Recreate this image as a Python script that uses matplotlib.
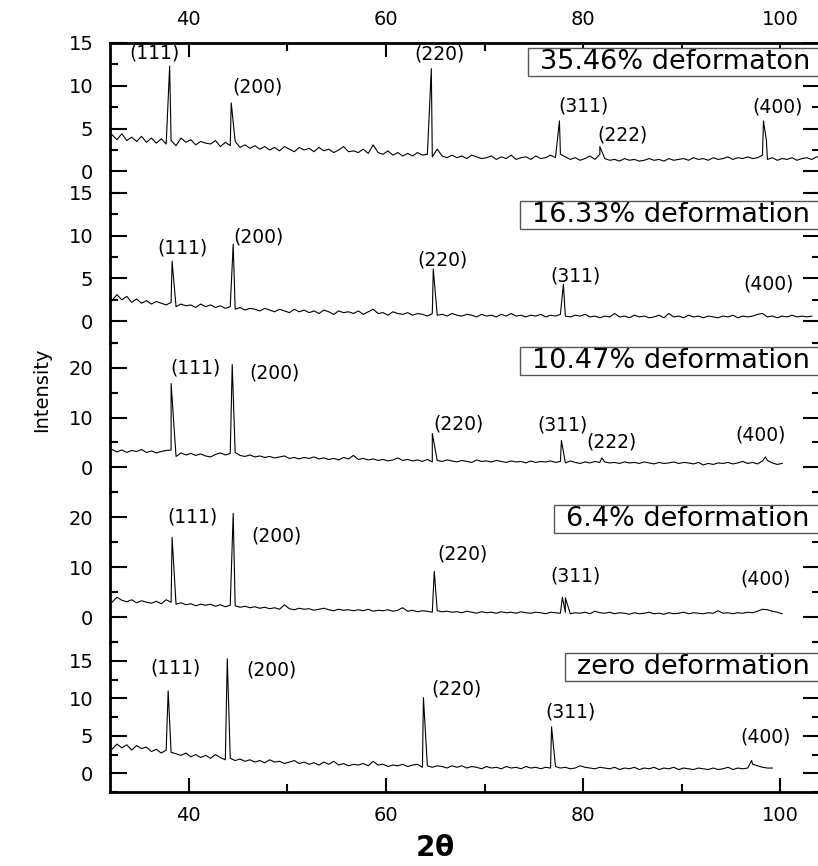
import numpy as np
import matplotlib
matplotlib.use('Agg')
import matplotlib.pyplot as plt
from matplotlib.ticker import MultipleLocator
from matplotlib.patches import Rectangle

# XRD patterns, 5 deformation levels (top -> bottom)
labels = ['35.46% deformaton', '16.33% deformation', '10.47% deformation',
          '6.4% deformation', 'zero deformation']

# background read every 0.5 deg starting at 32.2 deg
x_start = 32.2
x_step = 0.5

bg_3546 = [4.3, 3.7, 4.4, 3.6, 4.0, 3.5, 4.1, 3.4, 3.9, 3.3,
           3.8, 3.2, 3.6, 3.0, 3.9, 3.4, 3.7, 3.1, 3.5, 3.3,
           3.2, 3.6, 2.9, 3.4, 3.0, 3.5, 2.8, 3.1, 2.7, 3.0,
           2.6, 2.9, 2.5, 2.8, 2.4, 2.9, 2.6, 2.3, 2.8, 2.5,
           2.7, 2.3, 2.8, 2.4, 2.6, 2.2, 2.5, 2.9, 2.3, 2.4,
           2.2, 2.6, 2.1, 3.1, 2.2, 2.0, 2.4, 1.9, 2.2, 1.8,
           2.1, 1.8, 2.2, 1.9, 2.0, 1.7, 2.6, 1.8, 1.6, 1.9,
           1.6, 1.8, 1.5, 1.9, 1.7, 1.5, 1.6, 1.8, 1.4, 1.7,
           1.5, 1.9, 1.4, 1.6, 1.7, 1.4, 1.8, 1.5, 1.6, 1.9,
           1.6, 2.0, 1.7, 1.4, 1.6, 1.3, 1.5, 1.8, 1.4, 2.0,
           1.5, 1.3, 1.4, 1.2, 1.5, 1.3, 1.4, 1.2, 1.3, 1.5,
           1.3, 1.4, 1.2, 1.5, 1.3, 1.4, 1.5, 1.3, 1.6, 1.4,
           1.5, 1.3, 1.6, 1.4, 1.5, 1.7, 1.4, 1.6, 1.5, 1.7,
           1.5, 1.6, 1.9, 1.4, 1.6, 1.3, 1.5, 1.4, 1.6, 1.3,
           1.5, 1.6, 1.4, 1.7, 1.6]
bg_1633 = [2.4, 3.1, 2.5, 2.9, 2.2, 2.6, 2.1, 2.4, 2.0, 2.3,
           2.1, 1.9, 2.2, 1.7, 2.0, 1.8, 1.9, 1.6, 2.0, 1.7,
           1.9, 1.6, 1.8, 1.5, 1.7, 1.4, 1.6, 1.3, 1.5, 1.4,
           1.2, 1.5, 1.3, 1.1, 1.4, 1.2, 1.0, 1.4, 1.1, 1.3,
           1.0, 1.2, 0.9, 1.3, 1.1, 0.8, 1.2, 1.0, 1.1, 0.9,
           1.2, 0.8, 1.1, 1.4, 0.9, 1.0, 0.7, 1.1, 0.9, 0.8,
           1.0, 0.7, 0.9, 0.8, 0.6, 0.9, 0.7, 0.8, 0.6, 0.9,
           0.7, 0.6, 0.8, 0.7, 0.5, 0.8, 0.6, 0.7, 0.5, 0.8,
           0.6, 0.9, 0.6, 0.7, 0.5, 0.7, 0.6, 0.8, 0.5, 0.7,
           0.6, 0.8, 0.6, 0.5, 0.7, 0.6, 0.8, 0.5, 0.6, 0.4,
           0.6, 0.5, 0.9, 0.5, 0.6, 0.4, 0.7, 0.5, 0.6, 0.4,
           0.5, 0.7, 0.4, 0.9, 0.5, 0.6, 0.4, 0.7, 0.5, 0.6,
           0.4, 0.6, 0.5, 0.4, 0.6, 0.5, 0.7, 0.4, 0.6, 0.5,
           0.6, 0.8, 0.9, 0.5, 0.6, 0.4, 0.6, 0.5, 0.7, 0.5,
           0.6, 0.5, 0.6]
bg_1047 = [3.6, 3.1, 3.5, 3.0, 3.4, 3.2, 3.6, 3.0, 3.3, 2.9,
           3.2, 3.4, 3.5, 2.2, 2.9, 2.5, 2.8, 2.4, 2.7, 2.3,
           2.1, 2.6, 2.9, 2.5, 2.8, 3.0, 2.4, 2.2, 2.5, 2.1,
           2.3, 2.0, 2.2, 1.9, 2.1, 2.3, 1.8, 2.0, 1.7, 2.0,
           1.8, 2.1, 1.7, 1.9, 1.6, 1.8, 1.5, 2.0, 1.7, 2.4,
           1.6, 1.8, 1.5, 1.7, 1.4, 1.6, 1.3, 1.5, 1.9, 1.4,
           1.6, 1.3, 1.5, 1.2, 1.6, 1.1, 1.4, 1.2, 1.5, 1.3,
           1.1, 1.4, 1.2, 1.0, 1.5, 1.2, 1.3, 1.1, 1.4, 1.2,
           1.0, 1.3, 1.1, 1.2, 0.9, 1.3, 1.0, 1.2, 1.1, 1.3,
           1.0, 1.2, 0.9, 1.3, 1.0, 0.8, 1.1, 0.9, 1.2, 1.0,
           1.1, 0.9, 1.0, 0.8, 1.1, 0.9, 1.0, 0.8, 1.1, 0.9,
           0.7, 1.0, 0.8, 0.9, 1.1, 0.8, 1.0, 0.9, 0.7, 1.0,
           0.5, 0.8, 0.6, 0.9, 0.8, 1.0, 0.7, 0.9, 1.2, 0.8,
           1.0, 0.7, 1.3, 1.4, 0.9, 0.6, 0.8]
bg_64 = [3.0, 4.0, 3.4, 3.1, 3.5, 2.9, 3.3, 3.0, 2.8, 3.2,
         2.7, 3.5, 3.0, 2.6, 2.9, 2.5, 2.7, 2.3, 2.6, 2.4,
         2.6, 2.2, 2.5, 2.1, 2.4, 2.3, 2.0, 2.2, 1.9, 2.1,
         1.8, 2.0, 1.7, 1.9, 1.6, 2.5, 1.7, 1.5, 1.8, 1.6,
         1.7, 1.4, 1.6, 1.8, 1.5, 1.3, 1.6, 1.4, 1.5, 1.3,
         1.5, 1.3, 1.6, 1.2, 1.4, 1.3, 1.5, 1.2, 1.4, 1.9,
         1.2, 1.4, 1.1, 1.3, 1.2, 1.0, 1.3, 1.1, 1.2, 1.0,
         1.1, 0.9, 1.2, 1.0, 0.8, 1.1, 0.9, 1.0, 0.8, 1.1,
         0.9, 1.0, 0.8, 1.1, 0.9, 0.8, 1.0, 0.9, 0.7, 1.0,
         0.9, 0.8, 1.0, 0.7, 0.9, 0.8, 1.0, 0.7, 1.2, 0.9,
         0.8, 1.0, 0.7, 0.9, 0.8, 0.6, 0.9, 0.7, 0.8, 1.0,
         0.7, 0.8, 0.6, 0.9, 0.7, 0.8, 1.0, 0.7, 0.9, 0.8,
         0.7, 0.9, 0.8, 1.3, 0.8, 0.9, 0.7, 0.9, 0.8, 1.0,
         0.9, 1.2, 1.6, 1.5, 1.2, 1.0, 0.7]
bg_0 = [3.2, 3.9, 3.4, 3.8, 3.1, 3.7, 3.3, 3.5, 2.9, 3.2,
        2.7, 3.1, 2.8, 2.6, 2.4, 2.7, 2.2, 2.5, 2.1, 2.4,
        2.0, 2.5, 2.1, 1.8, 2.0, 1.7, 1.9, 1.6, 1.8, 1.5,
        1.7, 1.4, 1.8, 1.5, 1.6, 1.3, 1.5, 1.7, 1.3, 1.5,
        1.2, 1.4, 1.1, 1.5, 1.2, 1.6, 1.1, 1.3, 1.0, 1.2,
        1.1, 1.3, 1.0, 1.6, 1.1, 1.2, 0.9, 1.1, 1.0, 1.2,
        0.9, 1.1, 1.2, 0.8, 1.0, 0.8, 1.0, 0.9, 0.7, 1.0,
        0.8, 1.0, 0.7, 0.9, 0.8, 0.6, 0.9, 0.7, 0.8, 0.6,
        0.9, 0.7, 0.8, 0.6, 0.9, 0.7, 0.8, 0.6, 0.8, 0.7,
        0.9, 0.7, 0.8, 0.6, 0.7, 1.0, 0.8, 0.7, 0.6, 0.8,
        0.7, 0.6, 0.8, 0.5, 0.7, 0.6, 0.8, 0.5, 0.7, 0.6,
        0.8, 0.5, 0.7, 0.6, 0.8, 0.5, 0.7, 0.6, 0.5, 0.7,
        0.6, 0.5, 0.7, 0.5, 0.6, 0.8, 0.5, 0.7, 0.6, 0.7,
        1.2, 1.0, 0.8, 0.7, 0.7]

# peak tops (2theta, intensity)
pk_x_3546 = [38.05, 44.3, 64.6, 77.6, 81.7, 98.3, 98.6]
pk_y_3546 = [12.3, 8.0, 12.0, 5.9, 2.9, 5.9, 3.6]
pk_x_1633 = [38.3, 44.5, 64.8, 78.0]
pk_y_1633 = [7.0, 9.0, 6.1, 4.3]
pk_x_1047 = [38.2, 44.4, 64.7, 77.8, 81.9, 98.5]
pk_y_1047 = [16.8, 20.6, 6.8, 5.4, 1.9, 2.1]
pk_x_64 = [38.3, 44.5, 64.9, 77.9, 78.2]
pk_y_64 = [16.0, 20.8, 9.2, 4.0, 3.9]
pk_x_0 = [37.9, 43.9, 63.8, 76.8, 97.1]
pk_y_0 = [11.0, 15.3, 10.1, 6.2, 1.7]

# hkl labels (text, x, y)
hkl_3546 = [('(111)', 36.5, 13.8), ('(200)', 47.0, 9.9), ('(220)', 65.4, 13.7),
            ('(311)', 80.0, 7.6), ('(222)', 84.0, 4.3), ('(400)', 99.7, 7.5)]
hkl_1633 = [('(111)', 39.4, 8.6), ('(200)', 47.1, 9.8), ('(220)', 65.7, 7.2),
            ('(311)', 79.2, 5.3), ('(400)', 98.8, 4.3)]
hkl_1047 = [('(111)', 40.7, 20.0), ('(200)', 48.7, 19.0), ('(220)', 67.4, 8.6),
            ('(311)', 77.9, 8.4), ('(222)', 82.9, 5.0), ('(400)', 98.0, 6.4)]
hkl_64 = [('(111)', 40.4, 20.0), ('(200)', 48.9, 16.2), ('(220)', 67.8, 12.6),
          ('(311)', 79.2, 8.2), ('(400)', 98.5, 7.6)]
hkl_0 = [('(111)', 38.6, 14.1), ('(200)', 48.4, 13.8), ('(220)', 67.2, 11.2),
         ('(311)', 78.7, 8.2), ('(400)', 98.5, 4.8)]

backgrounds = [bg_3546, bg_1633, bg_1047, bg_64, bg_0]
peaks = [(pk_x_3546, pk_y_3546), (pk_x_1633, pk_y_1633), (pk_x_1047, pk_y_1047),
         (pk_x_64, pk_y_64), (pk_x_0, pk_y_0)]
hkls = [hkl_3546, hkl_1633, hkl_1047, hkl_64, hkl_0]

ylims = [(-2.5, 15), (-2.5, 15), (-5, 25), (-5, 25), (-2.5, 17.5)]
ymajor = [5, 5, 10, 10, 5]
box_y = [0.928, 0.752, 0.583, 0.401, 0.230]

plt.rcParams['font.family'] = ['DejaVu Sans']

fig = plt.figure(figsize=(8.18, 8.66), dpi=100)
W, H = 818, 866

left = 110 / W
width = 1.002 - left
top_px = 43
panel_px = 149.8

box_texts = []
for i in range(5):
    bottom = 1 - (top_px + panel_px * (i + 1)) / H
    ax = fig.add_axes([left, bottom, width, panel_px / H])
    ax.patch.set_alpha(0)

    # merge background + peak tops, sorted by angle
    bg = backgrounds[i]
    xs = list(x_start + x_step * np.arange(len(bg))) + list(peaks[i][0])
    ys = list(bg) + list(peaks[i][1])
    order = np.argsort(xs)
    ax.plot(np.array(xs)[order], np.array(ys)[order], color='black', lw=0.8)

    for txt, tx, ty in hkls[i]:
        ax.text(tx, ty, txt, ha='center', va='center', fontsize=13.5)

    ax.set_xlim(32, 104)
    ax.set_ylim(*ylims[i])
    ax.yaxis.set_major_locator(MultipleLocator(ymajor[i]))
    ax.yaxis.set_minor_locator(MultipleLocator(ymajor[i] / 2))
    ax.xaxis.set_major_locator(MultipleLocator(20))
    ax.xaxis.set_minor_locator(MultipleLocator(10))

    for s in ['top', 'bottom', 'right']:
        ax.spines[s].set_visible(False)
    ax.spines['left'].set_linewidth(2)

    ax.tick_params(axis='y', which='both', direction='in', left=True, right=True,
                   width=1.5, labelsize=14, pad=12)
    ax.tick_params(axis='y', which='major', length=12)
    ax.tick_params(axis='y', which='minor', length=6)

    if i == 0:
        ax.spines['top'].set_visible(True)
        ax.spines['top'].set_linewidth(2)
        ax.tick_params(axis='x', which='both', direction='in', top=True, bottom=False,
                       labeltop=True, labelbottom=False, width=1.5, labelsize=14, pad=10)
        ax.tick_params(axis='x', which='major', length=10)
        ax.tick_params(axis='x', which='minor', length=6)
    elif i == 4:
        ax.spines['bottom'].set_visible(True)
        ax.spines['bottom'].set_linewidth(2)
        ax.tick_params(axis='x', which='both', direction='in', top=False, bottom=True,
                       width=1.5, labelsize=14, pad=10)
        ax.tick_params(axis='x', which='major', length=10)
        ax.tick_params(axis='x', which='minor', length=6)
    else:
        ax.tick_params(axis='x', which='both', bottom=False, top=False,
                       labelbottom=False, labeltop=False)

    t = fig.text(0.990, box_y[i], labels[i], ha='right', va='center', fontsize=19.5,
                 zorder=5)
    box_texts.append(t)

# label boxes run off the right edge like the original
fig.canvas.draw()
renderer = fig.canvas.get_renderer()
for t in box_texts:
    bb = t.get_window_extent(renderer)
    x0 = (bb.x0 - 12) / W
    y0 = (bb.y0 - 1) / H
    h = (bb.height + 2) / H
    fig.add_artist(Rectangle((x0, y0), 1.05 - x0, h, transform=fig.transFigure,
                             fc='white', ec='#555555', lw=1, zorder=4, clip_on=False))

fig.text(42 / W, 1 - 390 / H, 'Intensity', rotation=90, ha='center', va='center',
         fontsize=14)
fig.text(435 / W, 1 - 848 / H, r'$\mathbf{2\theta}$', ha='center', va='center',
         fontsize=20)

plt.savefig('out.png', dpi=100)
